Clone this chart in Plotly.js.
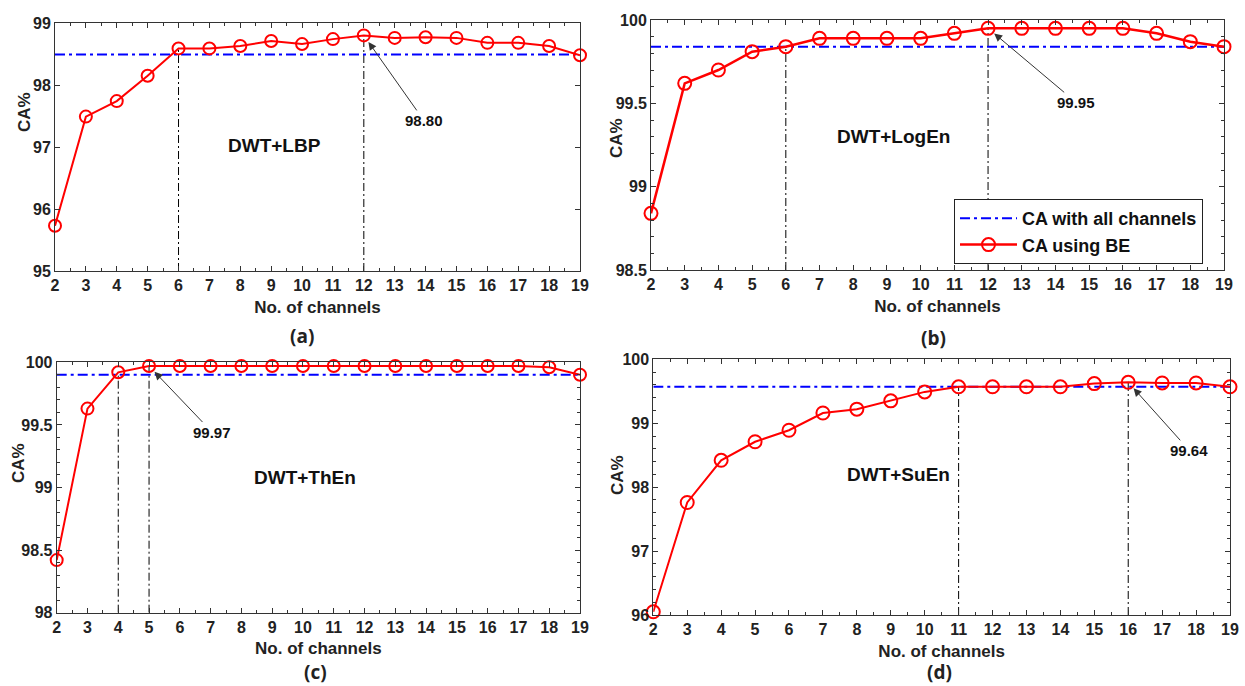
<!DOCTYPE html>
<html>
<head>
<meta charset="utf-8">
<script src="https://cdn.plot.ly/plotly-3.0.1.min.js"></script>
<style>html,body{margin:0;padding:0;background:#fff}#chart{width:1245px;height:686px}</style>
</head>
<body>
<div id="chart"></div>
<script>
// ---- data ----
const channels = [2,3,4,5,6,7,8,9,10,11,12,13,14,15,16,17,18,19];
const caLBP   = [95.73,97.49,97.74,98.15,98.59,98.59,98.63,98.71,98.66,98.74,98.80,98.76,98.77,98.76,98.68,98.68,98.63,98.48];
const caLogEn = [98.84,99.62,99.70,99.81,99.84,99.89,99.89,99.89,99.89,99.92,99.95,99.95,99.95,99.95,99.95,99.92,99.87,99.84];
const caThEn  = [98.42,99.63,99.92,99.97,99.97,99.97,99.97,99.97,99.97,99.97,99.97,99.97,99.97,99.97,99.97,99.97,99.96,99.90];
const caSuEn  = [96.05,97.76,98.42,98.71,98.89,99.16,99.22,99.35,99.49,99.57,99.57,99.57,99.57,99.62,99.64,99.63,99.63,99.57];
const allLBP = 98.49, allLogEn = 99.84, allThEn = 99.90, allSuEn = 99.57;
const markLBP = [6,12], markLogEn = [6,12], markThEn = [4,5], markSuEn = [11,16];
const bestLBP = 12, bestLogEn = 12, bestThEn = 5, bestSuEn = 16;
const panelNames = ["DWT+LBP","DWT+LogEn","DWT+ThEn","DWT+SuEn"];
const panelTags = ["(a)","(b)","(c)","(d)"];
const legendNames = ["CA with all channels","CA using BE"];
const xTitle = "No. of channels", yTitle = "CA%";

// ---- build ----
const FONT = 'Liberation Sans, Arial, sans-serif';
const panels = [
  {y: caLBP,   all: allLBP,   marks: markLBP,   best: bestLBP,   yr:[95,99],    dt:1,   md:null, ms:12, lw:2, legend:false},
  {y: caLogEn, all: allLogEn, marks: markLogEn, best: bestLogEn, yr:[98.5,100], dt:0.5, md:0.1,  ms:13, lw:2.5, legend:true},
  {y: caThEn,  all: allThEn,  marks: markThEn,  best: bestThEn,  yr:[98,100],   dt:0.5, md:0.1,  ms:12, lw:2, legend:false},
  {y: caSuEn,  all: allSuEn,  marks: markSuEn,  best: bestSuEn,  yr:[96,100],   dt:1,   md:0.2,  ms:13, lw:2, legend:false}
];
const traces = [];
panels.forEach((p, i) => {
  const xa = 'x' + (i ? i+1 : ''), ya = 'y' + (i ? i+1 : '');
  p.marks.forEach(c => {
    traces.push({x:[c,c], y:[p.yr[0], p.y[channels.indexOf(c)]], xaxis:xa, yaxis:ya, mode:'lines',
      line:{color:'#000', width:1, dash:'8px,3px,2px,3px'}, showlegend:false, hoverinfo:'skip'});
  });
  traces.push({x:[channels[0], channels[channels.length-1]], y:[p.all, p.all], xaxis:xa, yaxis:ya, mode:'lines',
    name: legendNames[0], showlegend:p.legend, line:{color:'#0000ff', width:2, dash:'10px,4px,3px,4px'}, cliponaxis:false});
  traces.push({x:channels, y:p.y, xaxis:xa, yaxis:ya, mode:'lines+markers', name: legendNames[1], showlegend:p.legend,
    line:{color:'#ff0000', width:p.lw}, marker:{symbol:'circle-open', size:p.ms, color:'#ff0000', line:{width:2, color:'#ff0000'}},
    cliponaxis:false});
});

const W = 1245, H = 686;
const boxes = [ // pixel boxes [left,right,top,bottom]
  [55,580,23,271],[651,1224,20,270],[56.7,580,362.3,612.7],[653.3,1230,359.3,615]
];
const tickfont = {family:FONT, size:16, weight:'bold', color:'#222'};
const layout = {
  width:W, height:H, margin:{l:0,r:0,t:0,b:0}, paper_bgcolor:'#fff', plot_bgcolor:'#fff',
  font:{family:FONT, color:'#222'},
  legend:{x:954/W, y:1-199/H, xanchor:'left', yanchor:'top', bgcolor:'#fff', bordercolor:'#222', borderwidth:1,
    font:{family:FONT, size:18, weight:'bold', color:'#111'}, tracegroupgap:0, itemwidth:57},
  annotations:[], showlegend:true
};
panels.forEach((p, i) => {
  const b = boxes[i];
  const sfx = i ? String(i+1) : '';
  const common = {showline:true, linecolor:'#333', linewidth:1, mirror:'ticks', ticks:'inside', ticklen:5, tickcolor:'#333',
    showgrid:false, zeroline:false, tickfont:tickfont};
  layout['xaxis'+sfx] = Object.assign({}, common, {domain:[b[0]/W, b[1]/W], range:[2,19], tick0:2, dtick:1, anchor:'y'+sfx,
    minor:{ticks:'inside', ticklen:3, tickcolor:'#333', dtick:0.5, tick0:2, showgrid:false},
    title:{text:xTitle, font:{family:FONT, size:17, weight:'bold', color:'#222'}, standoff:7}});
  const yax = Object.assign({}, common, {domain:[1-b[3]/H, 1-b[2]/H], range:p.yr, dtick:p.dt, tick0:p.yr[0], anchor:'x'+sfx});
  if (p.md) yax.minor = {ticks:'inside', ticklen:3, tickcolor:'#333', dtick:p.md, tick0:p.yr[0], showgrid:false};
  layout['yaxis'+sfx] = yax;
});
// panel labels and best-value annotations
const nameXY = [[9.12,97.02],[9.18,99.30],[10.06,99.08],[9.22,98.20]];
const arrowOff = [[60,85],[88,74],[63,66],[61,68]];
const tagXY = [[302,336],[933,338],[315,672],[940,672]];
const yTitleXY = [[25,112],[616,138],[18,463],[617,475]];
panels.forEach((p, i) => {
  const sfx = i ? String(i+1) : '';
  layout.annotations.push({xref:'x'+sfx, yref:'y'+sfx, x:nameXY[i][0], y:nameXY[i][1], text:panelNames[i], showarrow:false,
    font:{family:FONT, size:19, weight:'bold', color:'#111'}});
  const bv = p.y[channels.indexOf(p.best)];
  layout.annotations.push({xref:'x'+sfx, yref:'y'+sfx, x:p.best, y:bv, text:bv.toFixed(2), showarrow:true,
    ax:arrowOff[i][0], ay:arrowOff[i][1], arrowhead:2, arrowsize:1.6, arrowwidth:1, arrowcolor:'#333', standoff:8,
    font:{family:FONT, size:15, weight:'bold', color:'#111'}});
  layout.annotations.push({xref:'paper', yref:'paper', x:tagXY[i][0]/W, y:1-tagXY[i][1]/H, xanchor:'center', yanchor:'middle',
    text:panelTags[i], showarrow:false, font:{family:'Open Sans, sans-serif', size:19, weight:'bold', color:'#222'}});
  layout.annotations.push({xref:'paper', yref:'paper', x:yTitleXY[i][0]/W, y:1-yTitleXY[i][1]/H, xanchor:'center', yanchor:'middle',
    text:yTitle, textangle:-90, showarrow:false, font:{family:FONT, size:17, weight:'bold', color:'#222'}});
});
Plotly.newPlot('chart', traces, layout, {displayModeBar:false, staticPlot:true});
</script>
</body>
</html>
